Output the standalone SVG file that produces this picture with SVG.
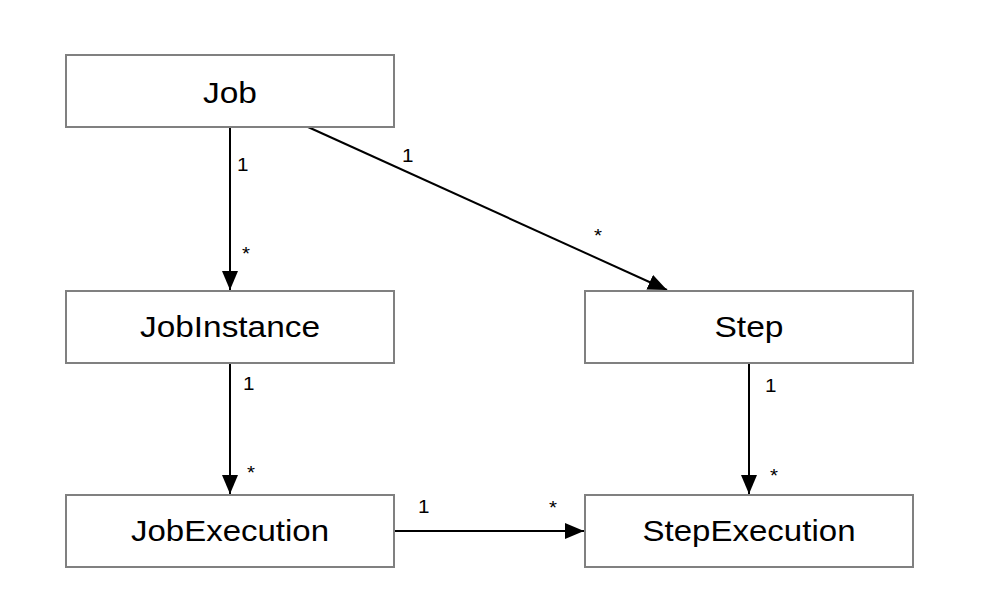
<svg xmlns="http://www.w3.org/2000/svg" width="998" height="608" viewBox="0 0 998 608">
<style>
.box{fill:#ffffff;stroke:#808080;stroke-width:2}
.name{font-family:"Liberation Sans",Arial,Helvetica,sans-serif;font-size:29px;fill:#000;text-anchor:middle}
.lbl{font-family:"Liberation Sans",Arial,Helvetica,sans-serif;font-size:18px;fill:#000}
.edge{stroke:#000;stroke-width:2;fill:none;marker-end:url(#arrow)}
</style>
<defs>
<marker id="arrow" markerUnits="userSpaceOnUse" markerWidth="20" markerHeight="17" refX="19" refY="8" orient="auto">
<path d="M0,0 L19,8 L0,16 z" fill="#000"/>
</marker>
</defs>
<rect width="998" height="608" fill="#ffffff"/>
<g id="connectors">
<line class="edge" x1="230" y1="127" x2="230" y2="290"/>
<line class="edge" x1="308" y1="127" x2="667" y2="290"/>
<line class="edge" x1="230" y1="363" x2="230" y2="494"/>
<line class="edge" x1="749" y1="363" x2="749" y2="494"/>
<line class="edge" x1="394" y1="531" x2="584" y2="531"/>
<text class="lbl" x="237" y="171" textLength="11.5" lengthAdjust="spacingAndGlyphs">1</text>
<text class="lbl" x="242" y="260" textLength="8" lengthAdjust="spacingAndGlyphs">*</text>
<text class="lbl" x="402" y="162" textLength="11.5" lengthAdjust="spacingAndGlyphs">1</text>
<text class="lbl" x="594" y="241.5" textLength="8" lengthAdjust="spacingAndGlyphs">*</text>
<text class="lbl" x="243" y="390" textLength="11.5" lengthAdjust="spacingAndGlyphs">1</text>
<text class="lbl" x="247" y="478.5" textLength="8" lengthAdjust="spacingAndGlyphs">*</text>
<text class="lbl" x="765" y="392" textLength="11.5" lengthAdjust="spacingAndGlyphs">1</text>
<text class="lbl" x="770" y="481.5" textLength="8" lengthAdjust="spacingAndGlyphs">*</text>
<text class="lbl" x="418" y="513" textLength="11.5" lengthAdjust="spacingAndGlyphs">1</text>
<text class="lbl" x="549" y="513.5" textLength="8" lengthAdjust="spacingAndGlyphs">*</text>
</g>
<g id="job">
<rect class="box" x="66" y="55" width="328" height="72"/>
<text class="name" x="230" y="102.5" textLength="54" lengthAdjust="spacingAndGlyphs">Job</text>
</g>
<g id="jobinstance">
<rect class="box" x="66" y="291" width="328" height="72"/>
<text class="name" x="230" y="337" textLength="180" lengthAdjust="spacingAndGlyphs">JobInstance</text>
</g>
<g id="step">
<rect class="box" x="585" y="291" width="328" height="72"/>
<text class="name" x="749" y="337" textLength="69" lengthAdjust="spacingAndGlyphs">Step</text>
</g>
<g id="jobexecution">
<rect class="box" x="66" y="495" width="328" height="72"/>
<text class="name" x="230" y="541" textLength="198" lengthAdjust="spacingAndGlyphs">JobExecution</text>
</g>
<g id="stepexecution">
<rect class="box" x="585" y="495" width="328" height="72"/>
<text class="name" x="749" y="541" textLength="213" lengthAdjust="spacingAndGlyphs">StepExecution</text>
</g>
</svg>
